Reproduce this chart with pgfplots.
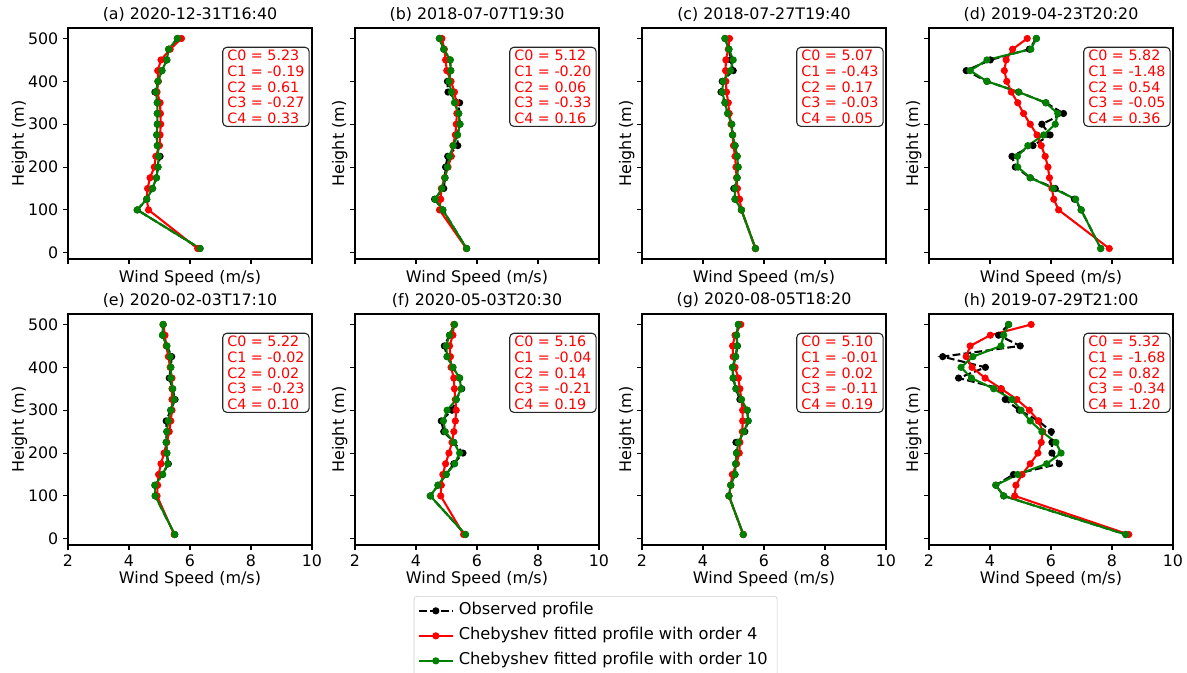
\documentclass[border=0pt]{standalone}
\usepackage{fontspec}
\setmainfont{DejaVu Sans}
\usepackage{pgfplots}
\usepackage{pgfplotstable}
\pgfplotsset{compat=1.18}
\definecolor{mgreen}{rgb}{0,0.5,0}

% columns: height, observed, Chebyshev order 4, Chebyshev order 10
\pgfplotstableread{
h obs c4 c10
500 5.59 5.72 5.59
475 5.30 5.35 5.30
450 5.24 5.05 5.24
425 5.08 4.94 5.08
400 4.95 4.96 4.95
375 4.85 4.92 4.88
350 4.93 5.02 4.93
325 4.93 5.03 4.93
300 4.93 5.04 4.93
275 4.91 5.02 4.91
250 4.93 5.00 4.93
225 5.02 4.88 4.97
200 4.95 4.83 4.95
175 4.90 4.69 4.90
150 4.77 4.61 4.77
125 4.58 4.58 4.58
100 4.27 4.64 4.27
10  6.33 6.25 6.33
}\tA
\pgfplotstableread{
h obs c4 c10
500 4.77 4.85 4.77
475 4.91 4.93 4.91
450 5.12 4.97 5.12
425 5.14 5.01 5.14
400 5.03 5.15 5.08
375 5.05 5.26 5.16
350 5.43 5.32 5.26
325 5.40 5.34 5.40
300 5.44 5.32 5.44
275 5.36 5.29 5.36
250 5.37 5.21 5.22
225 5.04 5.16 5.10
200 4.97 5.05 5.03
175 4.95 4.94 4.95
150 4.91 4.83 4.85
125 4.61 4.81 4.63
100 4.88 4.77 4.88
10  5.66 5.65 5.66
}\tB
\pgfplotstableread{
h obs c4 c10
500 4.72 4.87 4.72
475 4.85 4.83 4.85
450 4.91 4.75 4.99
425 4.99 4.74 4.90
400 4.63 4.75 4.66
375 4.59 4.77 4.63
350 4.72 4.83 4.72
325 4.81 4.86 4.81
300 4.94 4.92 4.94
275 4.97 4.97 4.97
250 5.05 5.00 5.05
225 5.12 5.05 5.12
200 5.15 5.08 5.15
175 5.12 5.10 5.12
150 5.01 5.13 5.05
125 5.05 5.20 5.05
100 5.26 5.26 5.26
10  5.72 5.72 5.72
}\tC
\pgfplotstableread{
h obs c4 c10
500 5.52 5.22 5.52
475 5.29 4.74 5.34
450 4.01 4.53 3.90
425 3.22 4.47 3.35
400 3.90 4.55 3.90
375 4.94 4.70 4.94
350 5.83 4.91 5.83
325 6.41 5.10 6.22
300 5.70 5.32 6.14
275 5.97 5.54 5.76
250 5.41 5.68 5.24
225 4.72 5.81 4.90
200 4.83 5.90 4.91
175 5.32 5.95 5.32
150 6.14 6.03 6.08
125 6.77 6.09 6.81
100 6.99 6.25 6.99
10  7.63 7.91 7.63
}\tD
\pgfplotstableread{
h obs c4 c10
500 5.12 5.12 5.12
475 5.10 5.18 5.10
450 5.24 5.22 5.24
425 5.40 5.29 5.35
400 5.37 5.35 5.37
375 5.32 5.41 5.37
350 5.43 5.41 5.43
325 5.51 5.41 5.48
300 5.37 5.41 5.37
275 5.22 5.37 5.29
250 5.24 5.32 5.24
225 5.22 5.24 5.22
200 5.24 5.15 5.24
175 5.29 5.05 5.27
150 5.10 4.97 5.10
125 4.85 4.94 4.85
100 4.86 4.92 4.86
10  5.50 5.48 5.50
}\tE
\pgfplotstableread{
h obs c4 c10
500 5.26 5.24 5.26
475 5.10 5.21 5.10
450 4.93 5.10 4.99
425 5.02 5.13 5.02
400 5.21 5.15 5.21
375 5.43 5.24 5.43
350 5.50 5.26 5.48
325 5.32 5.29 5.32
300 5.18 5.32 5.02
275 4.83 5.29 4.90
250 4.91 5.24 4.96
225 5.24 5.18 5.24
200 5.54 5.08 5.43
175 5.24 4.97 5.27
150 4.99 4.88 4.99
125 4.72 4.83 4.72
100 4.47 4.81 4.47
10  5.62 5.56 5.62
}\tF
\pgfplotstableread{
h obs c4 c10
500 5.16 5.24 5.16
475 5.10 5.05 5.10
450 5.13 4.97 5.12
425 5.07 4.99 5.07
400 4.97 5.05 4.97
375 4.99 5.16 4.99
350 5.08 5.21 5.08
325 5.21 5.26 5.26
300 5.45 5.30 5.45
275 5.48 5.30 5.48
250 5.37 5.29 5.34
225 5.08 5.21 5.16
200 5.10 5.19 5.10
175 5.07 5.10 5.07
150 5.05 4.96 5.05
125 4.91 4.91 4.91
100 4.85 4.85 4.85
10  5.32 5.32 5.32
}\tG
\pgfplotstableread{
h obs c4 c10
500 4.61 5.35 4.61
475 4.28 4.01 4.45
450 4.99 3.35 4.36
425 2.45 3.22 3.44
400 3.85 3.41 3.05
375 2.97 3.84 3.39
350 4.36 4.37 4.12
325 4.50 4.88 4.72
300 4.96 5.29 5.02
275 5.59 5.59 5.32
250 6.01 5.73 5.70
225 6.03 5.68 6.16
200 6.03 5.57 6.33
175 6.27 5.32 5.86
150 4.77 5.05 4.91
125 4.19 4.85 4.19
100 4.45 4.81 4.45
10  8.45 8.55 8.45
}\tH

\pgfplotsset{
  panel/.style={
    scale only axis, width=175.68pt, height=166.32pt,
    anchor=south west,
    xmin=2, xmax=10, ymin=-14.5, ymax=524.5,
    xtick={2,4,6,8,10}, ytick={0,100,200,300,400,500},
    tick pos=left, tick align=outside, major tick length=3.5pt,
    every tick/.style={black, line width=0.8pt},
    axis line style={black, line width=0.8pt},
    /pgf/number format/assume math mode=true,
    tick label style={font=\fontsize{11.4}{13}\selectfont, text=black},
    xlabel={Wind Speed (m/s)}, ylabel={Height (m)},
    label style={font=\fontsize{11.5}{13}\selectfont},
    title style={font=\fontsize{11.4}{13}\selectfont, at={(axis description cs:0.5,1)}, anchor=south, yshift=-1.6pt, inner sep=0pt},
    xlabel style={at={(axis description cs:0.5,0)}, anchor=north, inner sep=0pt, yshift=-18.5pt},
    ylabel style={at={(axis description cs:-0.1656,0.5)}, anchor=south, inner sep=0pt},
  },
  toprow/.style={xticklabels={}, xlabel style={yshift=10.8pt}},
  inner/.style={yticklabels={}, ylabel style={at={(axis description cs:-0.030,0.5)}}},
  fleg/.style={
    legend image code/.code={\draw[mark repeat=2,mark phase=2,##1] plot coordinates {(0pt,0pt) (12pt,0pt) (24pt,0pt)};},
    legend style={at={(axis description cs:0.986,-0.2208)}, anchor=north, draw=black!20, rounded corners=2pt,
      fill=white, font=\fontsize{11.7}{13}\selectfont, inner xsep=3pt, inner ysep=2.5pt, row sep=2pt,
      nodes={inner ysep=2.4pt, inner xsep=3.8pt, text height=8.5pt, text depth=2.7pt}},
    legend cell align=left},
  obsline/.style={black, line width=1.5pt, dash pattern=on 5.55pt off 2.4pt, mark=*, mark size=1.8pt, mark options={solid}},
  cfour/.style={red, line width=1.5pt, mark=*, mark size=1.8pt},
  cten/.style={mgreen, line width=1.5pt, mark=*, mark size=1.8pt},
}

\newcommand{\panel}[7]{%
\begin{axis}[panel, at={(#1,#2)}, title={#3}, #5]
\addplot[obsline] table[x=obs,y=h] {#4};
\addplot[cfour] table[x=c4,y=h] {#4};
\addplot[cten] table[x=c10,y=h] {#4};
\node[draw=black!85, line width=0.8pt, rounded corners=3pt, fill=white, text=red, align=left,
      inner xsep=3.3pt, inner ysep=2.2pt, anchor=north west, font=\fontsize{10.3}{11.2}\selectfont]
      at (rel axis cs:0.632,0.919) {#6};
#7
\end{axis}}

\begin{document}
\begin{tikzpicture}
\useasboundingbox (0,0) rectangle (854.64pt,484.56pt);
\panel{48.96pt}{298.08pt}{(a) 2020-12-31T16:40}{\tA}{toprow}{C0 = 5.23\\C1 = -0.19\\C2 = 0.61\\C3 = -0.27\\C4 = 0.33}{}
\panel{255.6pt}{298.08pt}{(b) 2018-07-07T19:30}{\tB}{toprow,inner}{C0 = 5.12\\C1 = -0.20\\C2 = 0.06\\C3 = -0.33\\C4 = 0.16}{}
\panel{462.24pt}{298.08pt}{(c) 2018-07-27T19:40}{\tC}{toprow,inner}{C0 = 5.07\\C1 = -0.43\\C2 = 0.17\\C3 = -0.03\\C4 = 0.05}{}
\panel{668.88pt}{298.08pt}{(d) 2019-04-23T20:20}{\tD}{toprow,inner}{C0 = 5.82\\C1 = -1.48\\C2 = 0.54\\C3 = -0.05\\C4 = 0.36}{}
\panel{48.96pt}{92.16pt}{(e) 2020-02-03T17:10}{\tE}{}{C0 = 5.22\\C1 = -0.02\\C2 = 0.02\\C3 = -0.23\\C4 = 0.10}{}
\panel{255.6pt}{92.16pt}{(f) 2020-05-03T20:30}{\tF}{inner,fleg}{C0 = 5.16\\C1 = -0.04\\C2 = 0.14\\C3 = -0.21\\C4 = 0.19}{\legend{Observed profile, Chebyshev fitted profile with order 4, Chebyshev fitted profile with order 10}}
\panel{462.24pt}{92.16pt}{(g) 2020-08-05T18:20}{\tG}{inner}{C0 = 5.10\\C1 = -0.01\\C2 = 0.02\\C3 = -0.11\\C4 = 0.19}{}
\panel{668.88pt}{92.16pt}{(h) 2019-07-29T21:00}{\tH}{inner}{C0 = 5.32\\C1 = -1.68\\C2 = 0.82\\C3 = -0.34\\C4 = 1.20}{}
\end{tikzpicture}
\end{document}
